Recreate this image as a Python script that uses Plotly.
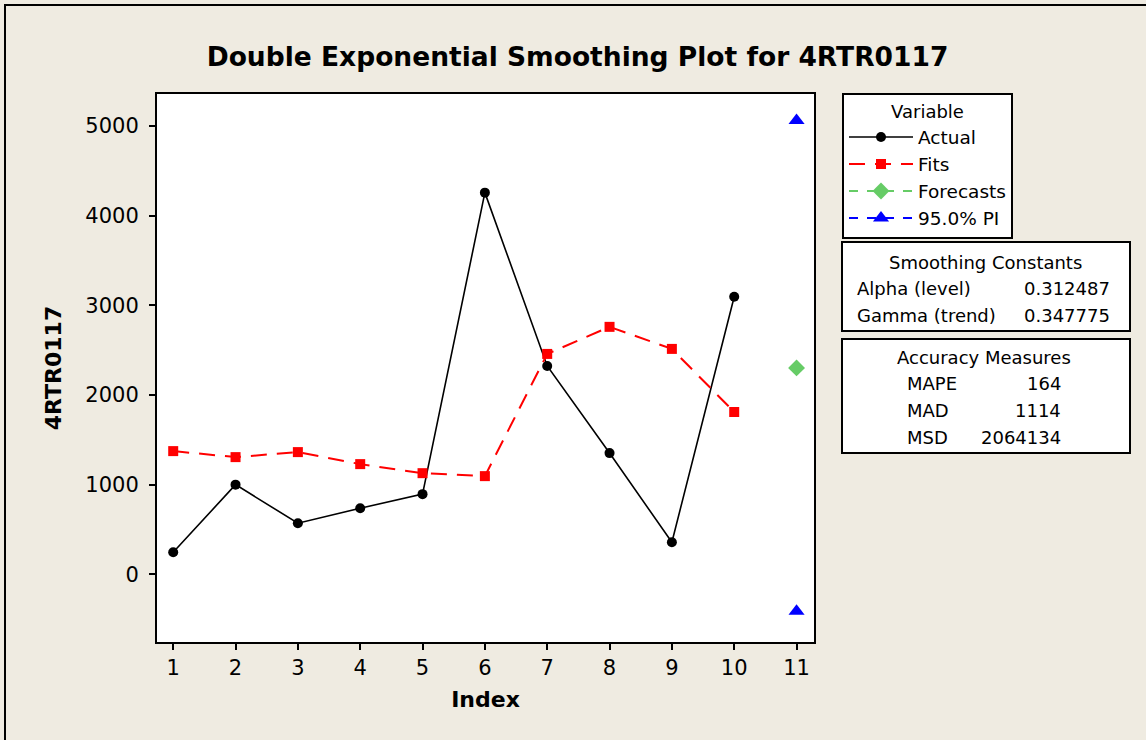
import plotly.graph_objects as go

# ---- data ----
index = [1, 2, 3, 4, 5, 6, 7, 8, 9, 10]
actual = [246, 1000, 570, 737, 894, 4257, 2324, 1352, 358, 3095]
fits = [1374, 1307, 1363, 1229, 1128, 1095, 2458, 2760, 2514, 1810]
forecast_index = [11]
forecasts = [2302]
pi_upper = [5061]
pi_lower = [-413]
x_ticks = [1, 2, 3, 4, 5, 6, 7, 8, 9, 10, 11]
y_ticks = [0, 1000, 2000, 3000, 4000, 5000]
smoothing_labels = ["Alpha (level)", "Gamma (trend)"]
smoothing_values = ["0.312487", "0.347775"]
accuracy_labels = ["MAPE", "MAD", "MSD"]
accuracy_values = ["164", "1114", "2064134"]

# ---- layout geometry (reference pixels) ----
W, H = 1146, 740
L, R, T, B = 157, 814, 94, 642
def px(p):
    return (p - L) / (R - L)
def py(p):
    return (B - p) / (B - T)

BG = "#EFEBE1"
FONT = "DejaVu Sans"

fig = go.Figure()
fig.add_trace(go.Scatter(
    x=index, y=actual, name="Actual", mode="lines+markers",
    line=dict(color="black", width=1.6),
    marker=dict(symbol="circle", size=10, color="black")))
fig.add_trace(go.Scatter(
    x=index, y=fits, name="Fits", mode="lines+markers",
    line=dict(color="#FF0000", width=2, dash="16px,10px"),
    marker=dict(symbol="square", size=10, color="#FF0000")))
fig.add_trace(go.Scatter(
    x=forecast_index, y=forecasts, name="Forecasts", mode="lines+markers",
    line=dict(color="#66CC66", width=2, dash="dash"),
    marker=dict(symbol="diamond", size=13, color="#66CC66")))
fig.add_trace(go.Scatter(
    x=forecast_index + [None] + forecast_index, y=pi_upper + [None] + pi_lower,
    name="95.0% PI", mode="lines+markers",
    line=dict(color="#0000FF", width=2, dash="dash"),
    marker=dict(symbol="triangle-up", size=14, color="#0000FF")))

shapes = []
# outer frame (only top/left visible)
shapes.append(dict(type="rect", xref="paper", yref="paper",
                   x0=px(5), x1=px(1400), y0=py(1000), y1=py(5),
                   line=dict(color="black", width=2), layer="below"))
# smoothing constants box
shapes.append(dict(type="rect", xref="paper", yref="paper",
                   x0=px(842), x1=px(1130), y0=py(331), y1=py(242),
                   line=dict(color="black", width=2), fillcolor="white", layer="below"))
# accuracy box
shapes.append(dict(type="rect", xref="paper", yref="paper",
                   x0=px(842), x1=px(1130), y0=py(453), y1=py(339),
                   line=dict(color="black", width=2), fillcolor="white", layer="below"))

annotations = []
tf = dict(family=FONT, size=18, color="black")
annotations.append(dict(xref="paper", yref="paper", x=px(985), y=py(262),
                        text="Smoothing Constants", showarrow=False, font=tf,
                        xanchor="center", yanchor="middle"))
for i, (lab, val) in enumerate(zip(smoothing_labels, smoothing_values)):
    yy = py(288 + 27 * i)
    annotations.append(dict(xref="paper", yref="paper", x=px(855), y=yy, text=lab,
                            showarrow=False, font=tf, xanchor="left", yanchor="middle"))
    annotations.append(dict(xref="paper", yref="paper", x=px(1112), y=yy, text=val,
                            showarrow=False, font=tf, xanchor="right", yanchor="middle"))
annotations.append(dict(xref="paper", yref="paper", x=px(984), y=py(357),
                        text="Accuracy Measures", showarrow=False, font=tf,
                        xanchor="center", yanchor="middle"))
for i, (lab, val) in enumerate(zip(accuracy_labels, accuracy_values)):
    yy = py(383 + 27 * i)
    annotations.append(dict(xref="paper", yref="paper", x=px(905), y=yy, text=lab,
                            showarrow=False, font=tf, xanchor="left", yanchor="middle"))
    annotations.append(dict(xref="paper", yref="paper", x=px(1063), y=yy, text=val,
                            showarrow=False, font=tf, xanchor="right", yanchor="middle"))

fig.update_layout(
    width=W, height=H,
    margin=dict(l=L, r=W - R, t=T, b=H - B, pad=0),
    paper_bgcolor=BG, plot_bgcolor="white",
    font=dict(family=FONT, color="black"),
    title=dict(text="Double Exponential Smoothing Plot for 4RTR0117",
               font=dict(family=FONT, size=26.5, weight="bold", color="black"),
               xref="container", yref="container",
               x=577.5 / W, y=1 - 57 / H, xanchor="center", yanchor="middle"),
    showlegend=True,
    legend=dict(x=px(842), y=py(93), xanchor="left", yanchor="top",
                bgcolor="white", bordercolor="black", borderwidth=2,
                font=dict(family=FONT, size=18.5, color="black"),
                title=dict(text="Variable", side="top center",
                           font=dict(family=FONT, size=18, color="black")),
                itemwidth=64, tracegroupgap=0),
    shapes=shapes, annotations=annotations,
)
fig.update_xaxes(range=[0.74, 11.28], tickvals=x_ticks, ticktext=[str(v) for v in x_ticks],
                 showgrid=False, zeroline=False, showline=True, linecolor="black",
                 linewidth=2, mirror=True, ticks="outside", ticklen=6, tickwidth=1.5,
                 tickcolor="black", tickfont=dict(family=FONT, size=21),
                 title=dict(text="Index", font=dict(family=FONT, size=22, weight="bold"),
                            standoff=12))
fig.update_yaxes(range=[-755, 5357], tickvals=y_ticks, ticktext=[str(v) for v in y_ticks],
                 showgrid=False, zeroline=False, showline=True, linecolor="black",
                 linewidth=2, mirror=True, ticks="outside", ticklen=6, tickwidth=1.5,
                 tickcolor="black", tickfont=dict(family=FONT, size=21),
                 ticklabelstandoff=6,
                 title=dict(text="4RTR0117", font=dict(family=FONT, size=22, weight="bold"),
                            standoff=18))

fig.write_html("out.html", config={"displayModeBar": False},
               post_script="document.body.style.margin='0';")
